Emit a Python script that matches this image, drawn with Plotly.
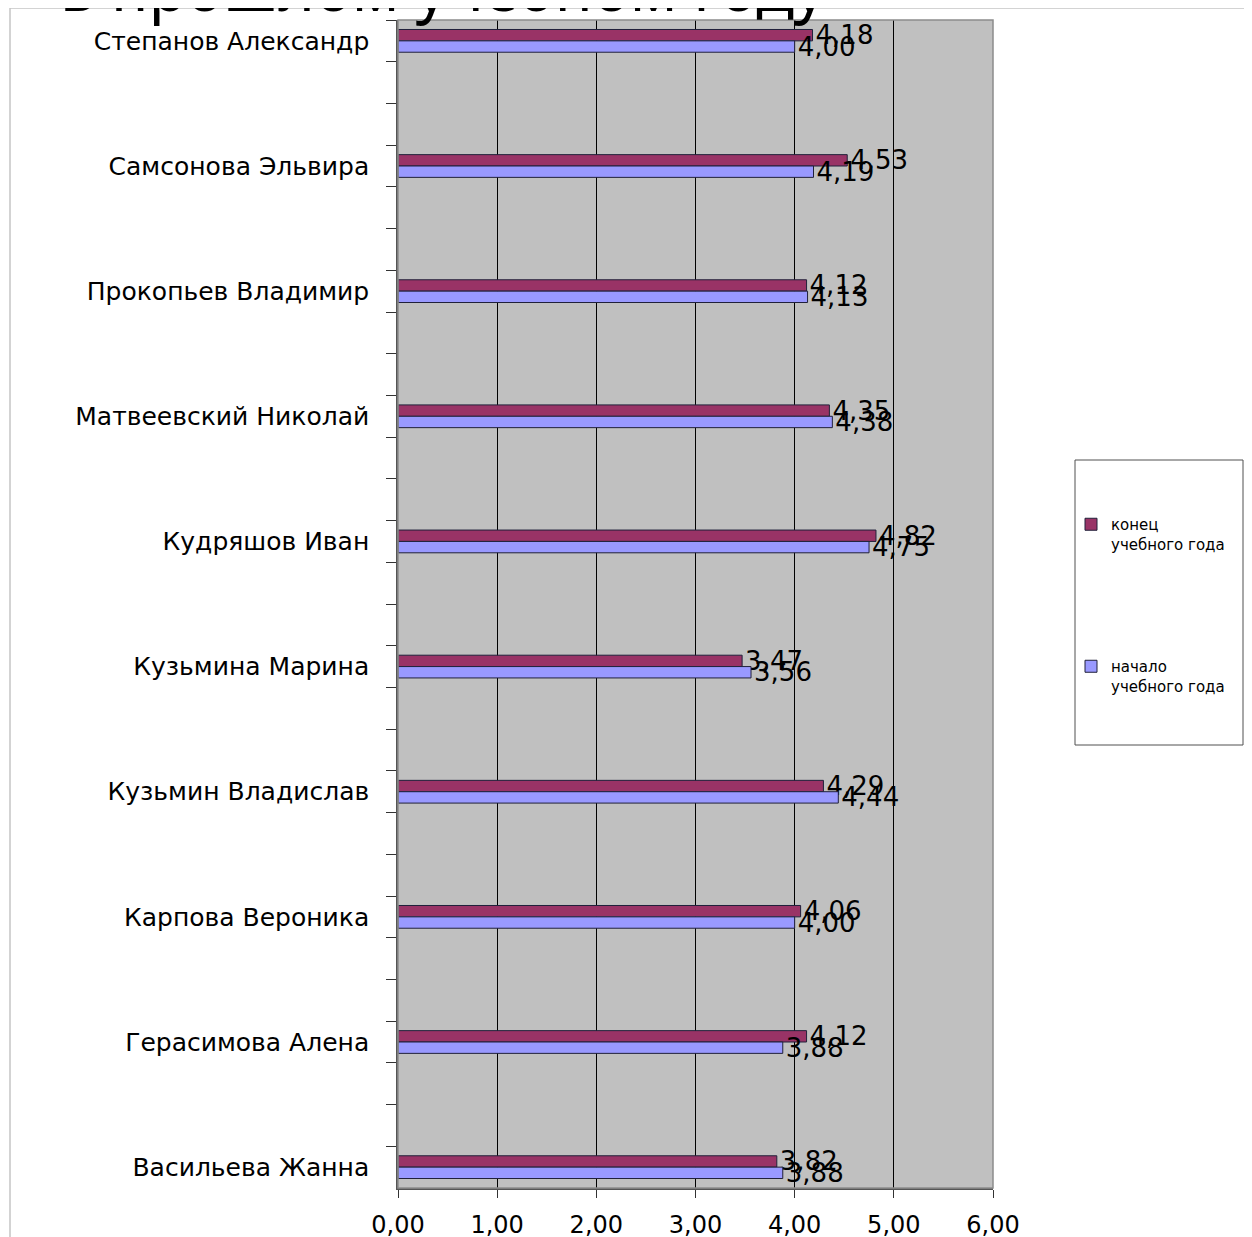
import plotly.graph_objects as go

# ---- data (top to bottom as shown) ----
names = ["Степанов Александр", "Самсонова Эльвира", "Прокопьев Владимир",
         "Матвеевский Николай", "Кудряшов Иван", "Кузьмина Марина",
         "Кузьмин Владислав", "Карпова Вероника", "Герасимова Алена",
         "Васильева Жанна"]
end_year = [4.18, 4.53, 4.12, 4.35, 4.82, 3.47, 4.29, 4.06, 4.12, 3.82]
start_year = [4.00, 4.19, 4.13, 4.38, 4.75, 3.56, 4.44, 4.00, 3.88, 3.88]
series_names = ["конец<br>учебного года", "начало<br>учебного года"]
x_ticks = [0, 1, 2, 3, 4, 5, 6]
title_fragment = "в прошлом учебном году"

GAP_SLOTS = 2  # empty category slots between named rows

# build category list with blank spacer slots
cats, v_end, v_start = [], [], []
blank_id = 0
for i, n in enumerate(names):
    cats.append(n); v_end.append(end_year[i]); v_start.append(start_year[i])
    if i < len(names) - 1:
        for _ in range(GAP_SLOTS):
            blank_id += 1
            cats.append(" " * blank_id); v_end.append(None); v_start.append(None)

W, H = 1252, 1237
# plot area in screen pixels
PL, PR, PT, PB = 398, 993, 20, 1188
OFF = 8  # page body offset

def px_x(p):
    return (p - PL) / (PR - PL)

def px_y(p):
    return (PB - p) / (PB - PT)

outline = dict(color="#20203a", width=1)
common = dict(orientation="h", texttemplate="%{x:.2f}", textposition="outside",
              constraintext="none", textangle=0, cliponaxis=False,
              textfont=dict(family="DejaVu Sans", size=26, color="black"),
              hoverinfo="skip")

fig = go.Figure()
fig.add_trace(go.Bar(y=cats, x=v_end, name=series_names[0], legendgroup="a",
                     marker=dict(color="#993366", line=outline), **common))
fig.add_trace(go.Bar(y=cats, x=v_start, name=series_names[1], legendgroup="b",
                     marker=dict(color="#9999FF", line=outline), **common))

shapes = [
    dict(type="rect", xref="paper", yref="paper", x0=0, x1=1, y0=0, y1=1,
         line=dict(color="#8c8c8c", width=1.5), layer="above"),
    dict(type="line", xref="paper", yref="paper", x0=px_x(10), x1=px_x(10),
         y0=px_y(8), y1=px_y(H + 10), line=dict(color="#c4c4c4", width=1.5)),
    dict(type="line", xref="paper", yref="paper", x0=px_x(10), x1=px_x(W + 10),
         y0=px_y(8), y1=px_y(8), line=dict(color="#c4c4c4", width=1.5)),
    dict(type="rect", xref="paper", yref="paper", x0=px_x(1075), x1=px_x(1243),
         y0=px_y(745), y1=px_y(460), line=dict(color="#505050", width=1),
         fillcolor="white", layer="below"),
]

fig.update_layout(
    width=W, height=H,
    margin=dict(l=PL - OFF, r=W - (PR - OFF), t=PT - OFF, b=H - (PB - OFF), pad=0,
                autoexpand=False),
    paper_bgcolor="white", plot_bgcolor="#C0C0C0",
    barmode="group", bargap=0.455, bargroupgap=0,
    separators=", ",
    showlegend=True,
    legend=dict(x=px_x(1071), y=px_y(508), xanchor="left", yanchor="top",
                bgcolor="rgba(0,0,0,0)", borderwidth=0,
                font=dict(family="DejaVu Sans", size=15, color="black"),
                traceorder="grouped", tracegroupgap=100, valign="top"),
    shapes=shapes,
    annotations=[dict(text=title_fragment, xref="paper", yref="paper",
                      x=px_x(58), y=px_y(31), xanchor="left", yanchor="bottom",
                      showarrow=False,
                      font=dict(family="Noto Sans", size=62, color="black"))],
)

fig.update_xaxes(range=[0, 6], tickvals=x_ticks, tickformat=".2f", automargin=False,
                 showgrid=True, gridcolor="black", gridwidth=1,
                 zeroline=False, showline=True, linecolor="#555555", linewidth=1.5,
                 ticks="outside", ticklen=8, tickcolor="#333333",
                 ticklabelstandoff=6,
                 tickfont=dict(family="DejaVu Sans", size=24, color="black"))
fig.update_yaxes(type="category", categoryorder="array", categoryarray=cats,
                 autorange="reversed", showgrid=False, zeroline=False, automargin=False,
                 showline=True, linecolor="#555555", linewidth=1.5,
                 ticks="outside", tickson="boundaries", ticklen=10,
                 tickcolor="#333333", ticklabelstandoff=22,
                 tickfont=dict(family="DejaVu Sans", size=25, color="black"))

fig.write_html("out.html")
